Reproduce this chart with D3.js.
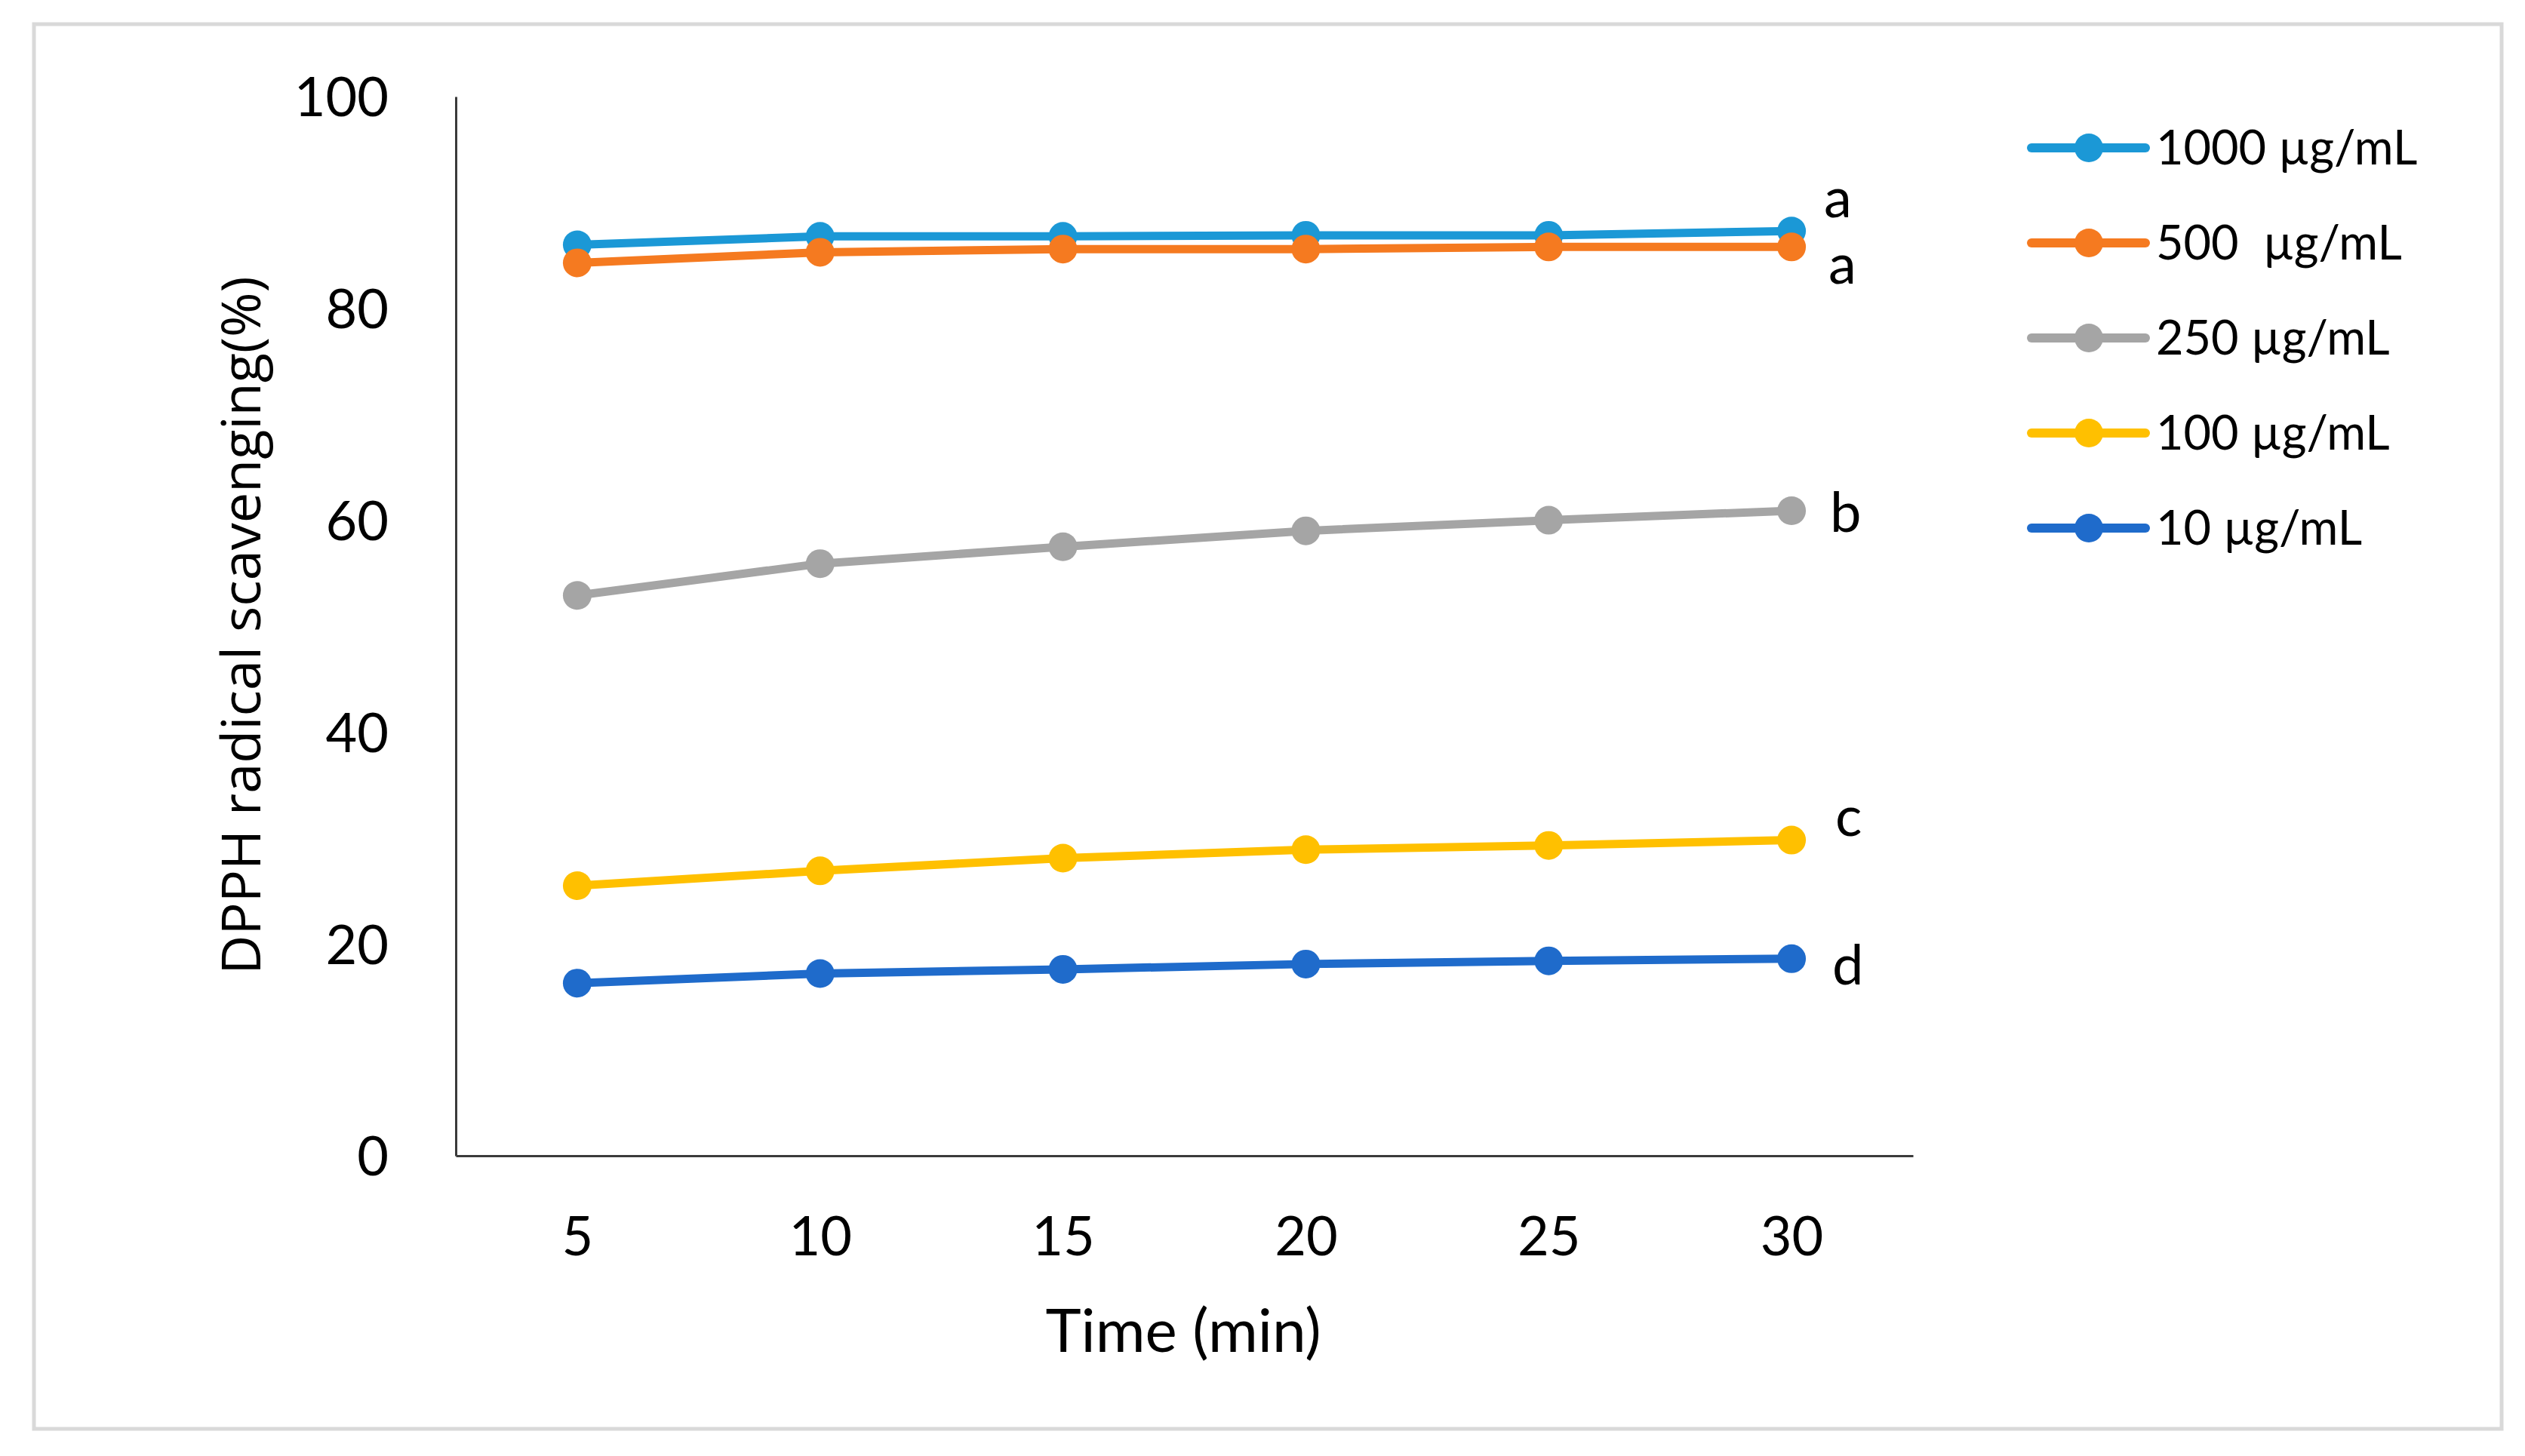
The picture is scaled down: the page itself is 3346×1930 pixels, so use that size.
<!DOCTYPE html>
<html>
<head>
<meta charset="utf-8">
<script src="https://cdn.jsdelivr.net/npm/d3@7"></script>
<style>
  body { margin: 0; background: #fff; }
</style>
</head>
<body>
<div id="chart-area"></div>
<script>
// time points (x categories)
const times = [5, 10, 15, 20, 25, 30];

// DPPH radical scavenging (%) for each concentration
const conc1000 = [86.0, 86.8, 86.8, 86.9, 86.9, 87.3];
const conc500 = [84.3, 85.3, 85.6, 85.6, 85.8, 85.8];
const conc250 = [52.9, 55.9, 57.5, 59.0, 60.0, 60.9];
const conc100 = [25.5, 26.9, 28.1, 28.9, 29.3, 29.8];
const conc10 = [16.3, 17.2, 17.6, 18.1, 18.4, 18.6];

const seriesNames = ["1000 \u00b5g/mL", "500  \u00b5g/mL", "250 \u00b5g/mL", "100 \u00b5g/mL", "10 \u00b5g/mL"];
const seriesColors = ["#1b98d6", "#f57a20", "#a5a5a5", "#ffc000", "#1f6bcb"];
const significanceLetters = ["a", "a", "b", "c", "d"];

const yTicks = [0, 20, 40, 60, 80, 100];

// where each letter sits compared to the last point of its line
const letterOffsets = [[43, -18], [49, 49], [51, 28], [58, -6], [54, 34]];

function drawChart() {
    const width = 3346;
    const height = 1930;

    const svg = d3.select("#chart-area")
        .append("svg")
        .attr("width", width)
        .attr("height", height)
        .style("display", "block");

    svg.append("rect")
        .attr("width", width)
        .attr("height", height)
        .attr("fill", "#fff");

    // light grey frame around the whole chart
    svg.append("rect")
        .attr("x", 45)
        .attr("y", 32)
        .attr("width", 3270)
        .attr("height", 1862)
        .attr("fill", "none")
        .attr("stroke", "#d9d9d9")
        .attr("stroke-width", 5);

    const left = 604, right = 2535, top = 128, bottom = 1532;

    const x = d3.scalePoint()
        .domain(times)
        .range([left, right])
        .padding(0.5);

    const y = d3.scaleLinear()
        .domain([0, 100])
        .range([bottom, top]);

    // y axis
    const yAxis = svg.append("g")
        .attr("transform", `translate(${left},0)`)
        .call(d3.axisLeft(y).tickValues(yTicks).tickSize(0).tickSizeOuter(0).tickPadding(89));
    yAxis.select(".domain").attr("stroke", "#3a3a3a").attr("stroke-width", 3);
    yAxis.selectAll("text")
        .attr("font-family", "Lato")
        .attr("font-size", 72)
        .attr("fill", "#000")
        .attr("dy", "0.36em");

    // x axis
    const xAxis = svg.append("g")
        .attr("transform", `translate(0,${bottom})`)
        .call(d3.axisBottom(x).tickSize(0).tickSizeOuter(0).tickPadding(81));
    xAxis.select(".domain").attr("stroke", "#3a3a3a").attr("stroke-width", 3);
    xAxis.selectAll("text")
        .attr("font-family", "Lato")
        .attr("font-size", 72)
        .attr("fill", "#000");

    // axis titles
    svg.append("text")
        .attr("x", 1568)
        .attr("y", 1792)
        .attr("text-anchor", "middle")
        .attr("font-family", "Lato")
        .attr("font-size", 80)
        .attr("fill", "#000")
        .text("Time (min)");

    svg.append("text")
        .attr("transform", "translate(345,829) rotate(-90)")
        .attr("text-anchor", "middle")
        .attr("font-family", "Open Sans")
        .attr("font-size", 72)
        .attr("fill", "#000")
        .text("DPPH radical scavenging(%)");

    const allSeries = [conc1000, conc500, conc250, conc100, conc10];

    const line = d3.line()
        .x((d, i) => x(times[i]))
        .y(d => y(d));

    // lines with markers, drawn in legend order
    allSeries.forEach((values, s) => {
        const g = svg.append("g");
        g.append("path")
            .attr("d", line(values))
            .attr("fill", "none")
            .attr("stroke", seriesColors[s])
            .attr("stroke-width", 11)
            .attr("stroke-linejoin", "round")
            .attr("stroke-linecap", "round");
        g.selectAll("circle")
            .data(values)
            .enter()
            .append("circle")
            .attr("cx", (d, i) => x(times[i]))
            .attr("cy", d => y(d))
            .attr("r", 19)
            .attr("fill", seriesColors[s]);
    });

    // significance letters next to the last points
    allSeries.forEach((values, s) => {
        const last = values.length - 1;
        svg.append("text")
            .attr("x", x(times[last]) + letterOffsets[s][0])
            .attr("y", y(values[last]) + letterOffsets[s][1])
            .attr("font-family", "Lato")
            .attr("font-size", 74)
            .attr("fill", "#000")
            .text(significanceLetters[s]);
    });

    // legend
    const legend = svg.append("g");
    seriesNames.forEach((name, s) => {
        const ly = 196 + s * 126;
        legend.append("line")
            .attr("x1", 2692)
            .attr("x2", 2843)
            .attr("y1", ly)
            .attr("y2", ly)
            .attr("stroke", seriesColors[s])
            .attr("stroke-width", 12)
            .attr("stroke-linecap", "round");
        legend.append("circle")
            .attr("cx", 2768)
            .attr("cy", ly)
            .attr("r", 19)
            .attr("fill", seriesColors[s]);
        legend.append("text")
            .attr("x", 2857)
            .attr("y", ly + 22)
            .attr("font-family", "Lato")
            .attr("font-size", 63)
            .attr("fill", "#000")
            .style("white-space", "pre")
            .attr("xml:space", "preserve")
            .text(name);
    });
}

drawChart();
</script>
</body>
</html>
